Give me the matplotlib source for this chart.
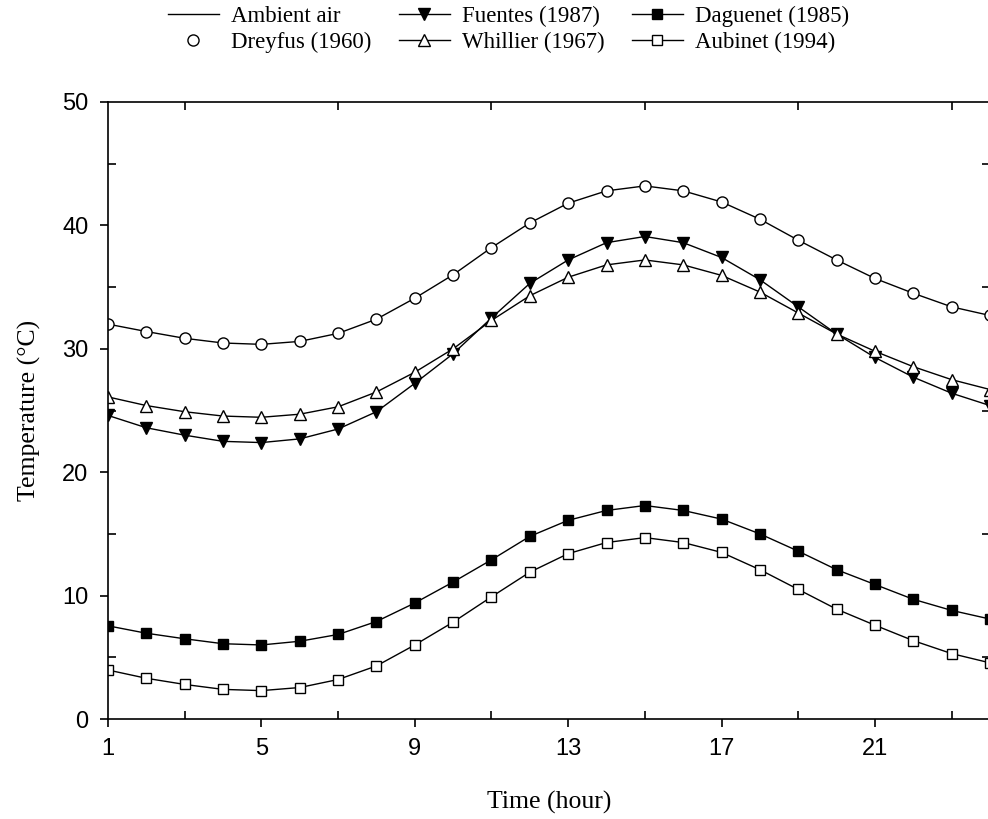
import numpy as np
import matplotlib.pyplot as plt
from matplotlib.ticker import MultipleLocator

hours = list(range(1, 25))

ambient_air = [32.0, 31.4, 30.85, 30.47, 30.36, 30.6, 31.25, 32.4, 34.1, 36.0, 38.2, 40.2,
               41.8, 42.8, 43.2, 42.8, 41.9, 40.5, 38.8, 37.2, 35.7, 34.5, 33.4, 32.7]
dreyfus = [32.0, 31.4, 30.85, 30.47, 30.36, 30.6, 31.25, 32.4, 34.1, 36.0, 38.2, 40.2,
           41.8, 42.8, 43.2, 42.8, 41.9, 40.5, 38.8, 37.2, 35.7, 34.5, 33.4, 32.7]
fuentes = [24.6, 23.6, 23.0, 22.5, 22.4, 22.7, 23.5, 24.9, 27.2, 29.6, 32.5, 35.3,
           37.2, 38.6, 39.1, 38.6, 37.4, 35.6, 33.4, 31.2, 29.3, 27.7, 26.4, 25.4]
whillier = [26.1, 25.4, 24.9, 24.55, 24.45, 24.7, 25.3, 26.5, 28.1, 30.0, 32.3, 34.3,
            35.8, 36.8, 37.2, 36.8, 35.95, 34.6, 32.9, 31.2, 29.8, 28.55, 27.5, 26.7]
daguenet = [7.55, 6.95, 6.5, 6.1, 6.0, 6.3, 6.85, 7.9, 9.4, 11.1, 12.9, 14.8,
            16.1, 16.9, 17.3, 16.9, 16.2, 15.0, 13.6, 12.1, 10.9, 9.7, 8.8, 8.1]
aubinet = [3.97, 3.3, 2.8, 2.4, 2.3, 2.55, 3.2, 4.3, 6.0, 7.85, 9.9, 11.9,
           13.4, 14.3, 14.7, 14.3, 13.5, 12.1, 10.5, 8.9, 7.6, 6.35, 5.3, 4.55]

serif = 'Liberation Serif'
plt.rcParams['font.family'] = 'Liberation Sans'

fig = plt.figure(figsize=(9.88, 8.19), dpi=100)
ax = fig.add_axes([108/988, 1 - 719/819, 882/988, (719 - 102)/819])

lw = 1.0
mew = 1.0
ax.plot(hours, ambient_air, '-', color='k', lw=lw, label='Ambient air')
ax.plot(hours, dreyfus, 'o', ls='none', mfc='white', mec='k', mew=mew, ms=8, label='Dreyfus (1960)')
ax.plot(hours, fuentes, '-v', color='k', lw=lw, mfc='k', mec='k', ms=8, label='Fuentes (1987)')
ax.plot(hours, whillier, '-^', color='k', lw=lw, mfc='white', mec='k', mew=mew, ms=8, label='Whillier (1967)')
ax.plot(hours, daguenet, '-s', color='k', lw=lw, mfc='k', mec='k', ms=7, label='Daguenet (1985)')
ax.plot(hours, aubinet, '-s', color='k', lw=lw, mfc='white', mec='k', mew=mew, ms=7, label='Aubinet (1994)')

ax.set_xlim(1, 24)
ax.set_ylim(0, 50)
ax.set_xticks([1, 5, 9, 13, 17, 21])
ax.set_xticks([3, 7, 11, 15, 19, 23], minor=True)
ax.yaxis.set_major_locator(MultipleLocator(10))
ax.yaxis.set_minor_locator(MultipleLocator(5))

for s in ax.spines.values():
    s.set_linewidth(1.2)
# majors point out on the left/bottom only, minors point in on all sides
ax.tick_params(which='major', direction='out', length=6, width=1.2, labelsize=17, pad=8,
               top=False, right=False)
ax.tick_params(which='minor', direction='in', length=6, width=1.2,
               top=True, right=True, bottom=True, left=True)

ax.set_xlabel('Time (hour)', family=serif, fontsize=18.5, labelpad=22)
ax.set_ylabel('Temperature (°C)', family=serif, fontsize=18.5, labelpad=15)

fig.legend(loc='upper center', bbox_to_anchor=(0.515, 1.018), ncol=3, frameon=False,
           prop={'family': serif, 'size': 16.5}, handlelength=2.2, handletextpad=0.55,
           columnspacing=1.2, labelspacing=0.2)

fig.savefig('out.png', dpi=100)
